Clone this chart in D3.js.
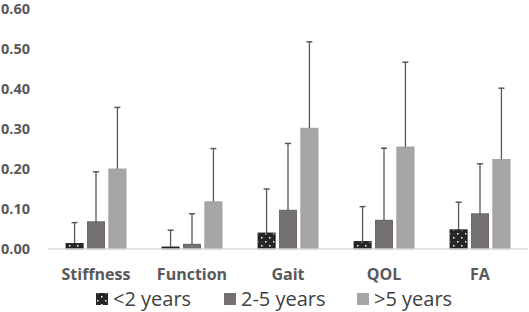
<!DOCTYPE html>
<html>
<head>
<meta charset="utf-8">
<script src="https://cdn.jsdelivr.net/npm/d3@7"></script>
<style>
  body { margin: 0; background: #fff; }
  text { font-family: "Open Sans", "Noto Sans", sans-serif; }
</style>
</head>
<body>
<div id="chart"></div>
<script>
const categories = ["Stiffness", "Function", "Gait", "QOL", "FA"];
const seriesNames = ["<2 years", "2-5 years", ">5 years"];
const under2 = [0.014, 0.005, 0.040, 0.019, 0.048];
const twoToFive = [0.068, 0.012, 0.097, 0.072, 0.088];
const over5 = [0.200, 0.118, 0.302, 0.255, 0.224];
const under2Err = [0.066, 0.047, 0.150, 0.106, 0.117];
const twoToFiveErr = [0.193, 0.088, 0.264, 0.252, 0.213];
const over5Err = [0.354, 0.251, 0.518, 0.467, 0.402];
const yTicks = [0, 0.1, 0.2, 0.3, 0.4, 0.5, 0.6];

const width = 529;
const height = 312;

const svg = d3.select("#chart")
  .append("svg")
  .attr("width", width)
  .attr("height", height);

const defs = svg.append("defs");
const pat = defs.append("pattern")
  .attr("id", "dots")
  .attr("patternUnits", "userSpaceOnUse")
  .attr("width", 8)
  .attr("height", 8);
pat.append("rect").attr("width", 8).attr("height", 8).attr("fill", "#262626");
pat.append("rect").attr("x", 1).attr("y", 1).attr("width", 1.5).attr("height", 1.5).attr("fill", "#fff");
pat.append("rect").attr("x", 5).attr("y", 5).attr("width", 1.5).attr("height", 1.5).attr("fill", "#fff");

const fills = ["url(#dots)", "#767171", "#a6a6a6"];
const strokes = ["#1a1a1a", "#5e5a5a", "#999999"];

const xScale = d3.scaleBand().domain(categories).range([48, 528]);
const sub = d3.scaleBand().domain(seriesNames).range([18, 78]).paddingInner(0.2);
const yScale = d3.scaleLinear().domain([0, 0.6]).range([249, 9]);

// y tick labels
svg.append("g")
  .selectAll("text")
  .data(yTicks)
  .join("text")
  .attr("x", 1)
  .attr("y", d => yScale(d))
  .attr("dy", "0.35em")
  .attr("font-size", 14.5)
  .attr("font-weight", "bold")
  .attr("fill", "#595959")
  .text(d => d.toFixed(2));

const data = categories.map((c, i) => ({
  cat: c,
  vals: [
    { s: 0, v: under2[i], e: under2Err[i] },
    { s: 1, v: twoToFive[i], e: twoToFiveErr[i] },
    { s: 2, v: over5[i], e: over5Err[i] }
  ]
}));

const groups = svg.append("g")
  .selectAll("g")
  .data(data)
  .join("g")
  .attr("transform", d => `translate(${xScale(d.cat)},0)`);

// error bars (behind bars)
groups.selectAll("g.err")
  .data(d => d.vals)
  .join("g")
  .attr("class", "err")
  .each(function(d) {
    const g = d3.select(this);
    const cx = sub(seriesNames[d.s]) + sub.bandwidth() / 2;
    g.append("line")
      .attr("x1", cx).attr("x2", cx)
      .attr("y1", yScale(d.v)).attr("y2", yScale(d.e))
      .attr("stroke", "#595959").attr("stroke-width", 1.3);
    g.append("line")
      .attr("x1", cx - 3).attr("x2", cx + 3)
      .attr("y1", yScale(d.e)).attr("y2", yScale(d.e))
      .attr("stroke", "#595959").attr("stroke-width", 1.5);
  });

groups.selectAll("rect")
  .data(d => d.vals)
  .join("rect")
  .attr("x", d => sub(seriesNames[d.s]))
  .attr("y", d => yScale(d.v))
  .attr("width", sub.bandwidth())
  .attr("height", d => yScale(0) - yScale(d.v))
  .attr("fill", d => fills[d.s])
  .attr("stroke", d => strokes[d.s])
  .attr("stroke-width", 0.8);

// baseline
svg.append("line")
  .attr("x1", 48).attr("x2", 528)
  .attr("y1", yScale(0)).attr("y2", yScale(0))
  .attr("stroke", "#d9d9d9")
  .attr("stroke-width", 1.5);

// category labels
svg.append("g")
  .selectAll("text")
  .data(categories)
  .join("text")
  .attr("x", d => xScale(d) + xScale.bandwidth() / 2)
  .attr("y", 274)
  .attr("dy", "0.35em")
  .attr("text-anchor", "middle")
  .attr("font-size", 16)
  .attr("font-weight", "bold")
  .attr("fill", "#595959")
  .text(d => d);

// legend
const legendX = [96, 224, 357];
const legend = svg.append("g")
  .selectAll("g")
  .data(seriesNames)
  .join("g")
  .attr("transform", (d, i) => `translate(${legendX[i]},299)`);

legend.append("rect")
  .attr("x", 0).attr("y", -6)
  .attr("width", 12).attr("height", 12)
  .attr("fill", (d, i) => fills[i]);

legend.append("text")
  .attr("x", 17)
  .attr("dy", "0.35em")
  .attr("font-size", 20)
  .attr("fill", "#404040")
  .text(d => d);
</script>
</body>
</html>
